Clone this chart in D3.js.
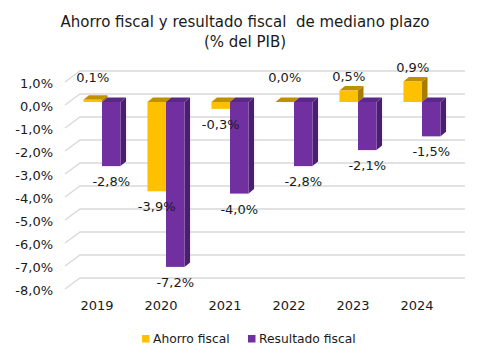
<!DOCTYPE html>
<html><head><meta charset="utf-8">
<script src="https://cdn.jsdelivr.net/npm/d3@7"></script>
<style>body{margin:0;background:#fff}svg{display:block}text{font-family:"DejaVu Sans",sans-serif;fill:#1a1a1a}</style>
</head><body>
<svg id="c" width="490" height="359"></svg>
<script>
const categories = ["2019","2020","2021","2022","2023","2024"];
const seriesNames = ["Ahorro fiscal","Resultado fiscal"];
const ahorro = [0.1,-3.9,-0.3,0.0,0.5,0.9];
const resultado = [-2.8,-7.2,-4.0,-2.8,-2.1,-1.5];
const yTicks = [1,0,-1,-2,-3,-4,-5,-6,-7,-8];
const colors = {front:["#FFC000","#7030A0"], top:["#BF9000","#5C2888"], side:["#A67D00","#4A1F70"]};

const svg = d3.select("#c");
const loc = d3.formatLocale({decimal:",",thousands:".",grouping:[3],currency:["",""],minus:"-"});
const fmt = v => loc.format(".1f")(v) + "%";

// scales
const yFront = d3.scaleLinear().domain([-8,1]).range([102+8*22.9, 102-22.9]);
const yBack = d3.scaleLinear().domain([-8,1]).range([94+8*23, 94-23]);
const yEdge = d3.scaleLinear().domain([-8,1]).range([94+8*23+11, 94-23+11]);
const x0 = d3.scaleBand().domain(categories).range([70,454]).paddingInner(0.42).paddingOuter(0.21);
const x1 = d3.scaleBand().domain(seriesNames).range([0,x0.bandwidth()]);
const DX = 5.5, DY = -4.5;

// title
const t = svg.append("text").attr("text-anchor","middle").style("font-size","15px").style("white-space","pre");
t.append("tspan").attr("x",245).attr("y",27).text("Ahorro fiscal y resultado fiscal  de mediano plazo");
t.append("tspan").attr("x",245).attr("y",47).text("(% del PIB)");

// gridlines (back wall + side diagonal)
const grid = svg.append("g").attr("stroke","#d9d9d9").attr("stroke-width",1.3).attr("fill","none");
yTicks.forEach(v=>{
  grid.append("path").attr("d",`M65,${yEdge(v)}L80,${yBack(v)}L465,${yBack(v)}`);
});

// y axis labels
const yAx = svg.append("g").attr("transform","translate(60,0)")
  .call(d3.axisLeft(yEdge).tickValues(yTicks).tickSize(0).tickPadding(7).tickFormat(fmt));
yAx.select(".domain").remove();
yAx.selectAll("text").style("font-size","13px").style("font-family","DejaVu Sans").attr("fill","#1a1a1a").attr("dy","0.45em");

// bars
const data = categories.map((c,i)=>({cat:c, vals:[ahorro[i],resultado[i]]}));
const bars = svg.append("g");
data.forEach(d=>{
  d.vals.forEach((v,s)=>{
    const x = x0(d.cat)+x1(seriesNames[s]), w = x1.bandwidth();
    const yt = yFront(Math.max(v,0)), yb = yFront(Math.min(v,0));
    const g = bars.append("g");
    g.append("path").attr("fill",colors.side[s])
      .attr("d",`M${x+w},${yt}L${x+w+DX},${yt+DY}L${x+w+DX},${yb+DY}L${x+w},${yb}Z`);
    g.append("path").attr("fill",colors.top[s])
      .attr("d",`M${x},${yt}L${x+DX},${yt+DY}L${x+w+DX},${yt+DY}L${x+w},${yt}Z`);
    if (yb-yt>0) g.append("rect").attr("fill",colors.front[s]).attr("x",x).attr("y",yt).attr("width",w).attr("height",yb-yt);
  });
});

// data labels
const lab = svg.append("g").style("font-size","13px").attr("text-anchor","middle");
data.forEach(d=>{
  d.vals.forEach((v,s)=>{
    const cx = x0(d.cat)+x1(seriesNames[s])+x1.bandwidth()/2;
    let cy;
    if (v>=0) cy = Math.min(yFront(v)-14, yFront(0)-25);
    else cy = yFront(v)+15;
    lab.append("text").attr("x",cx).attr("y",cy).attr("dy","0.38em").text(fmt(v));
  });
});

// x axis
const xAx = svg.append("g").attr("transform","translate(-5,300)")
  .call(d3.axisBottom(x0).tickSize(0).tickPadding(0));
xAx.select(".domain").remove();
xAx.selectAll("text").style("font-size","13px").style("font-family","DejaVu Sans").attr("fill","#1a1a1a").attr("dy","0.8em");

// legend
const leg = svg.append("g").style("font-size","12.3px");
const legX = [142,248];
seriesNames.forEach((n,s)=>{
  leg.append("rect").attr("x",legX[s]).attr("y",335).attr("width",7.5).attr("height",7.5).attr("fill",colors.front[s]);
  leg.append("text").attr("x",legX[s]+11).attr("y",343).text(n);
});
</script>
</body></html>
